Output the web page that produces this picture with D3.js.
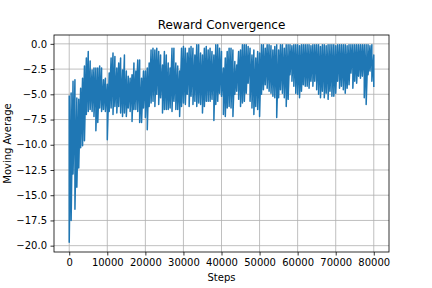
<!DOCTYPE html>
<html>
<head>
<meta charset="utf-8">
<script src="https://cdn.jsdelivr.net/npm/d3@7"></script>
<style>
  body { margin: 0; background: #fff; }
  text { font-family: "DejaVu Sans", sans-serif; }
</style>
</head>
<body>
<div id="chart"></div>
<script>
// Datos: envolvente (max / min) de la media movil cada 500 pasos
var sampleStep = 500;

var upper = [
  -5.2, -4.87, -3.7, -3.55, -5.36, -5.5, -4.4, -3.4, -2.2, -1.4,
  -0.75, -1.7, -2.6, -2.4, -2.4, -2.4, -2.2, -2.4, -3.55, -3.4,
  -4.0, -2.9, -1.4, -0.9, -1.25, -2.4, -1.9, -1.4, -2.6, -1.1,
  -2.7, -3.2, -3.4, -3.05, -1.9, -2.7, -1.6, -1.6, -3.4, -2.7,
  -2.7, -2.4, -1.9, -0.6, -0.43, -0.6, -0.43, -0.75, -1.1, -2.1,
  -0.75, -1.1, -1.9, -2.4, -0.43, -0.43, -1.9, -2.2, -2.7, -0.43,
  -0.26, -0.43, -0.9, -0.43, -0.26, -0.43, -1.1, -0.1, -0.1, -0.9,
  -1.1, -0.43, -0.26, -0.6, -0.43, -0.75, -1.1, -0.1, -0.1, -0.43,
  -0.75, -2.4, -1.4, -0.75, -0.43, -0.43, -0.6, -1.75, -2.1, -0.75,
  -0.6, -0.1, -0.1, -0.1, -0.26, -0.43, -1.1, -0.6, -1.4, -0.75,
  -0.9, -0.1, -0.1, -0.43, -0.1, -0.1, -0.2, -0.6, -0.26, -0.1,
  -0.6, -0.1, -0.1, -0.43, -0.1, -0.1, -0.1, -0.2, -0.1, -0.1,
  -0.1, -0.2, -0.1, -0.1, -0.1, -0.1, -0.1, -0.2, -0.1, -0.1,
  -0.1, -0.1, -0.26, -0.1, -0.1, -0.2, -0.1, -0.1, -0.1, -0.1,
  -0.2, -0.1, -0.1, -0.1, -0.1, -0.1, -0.2, -0.1, -0.1, -0.1,
  -0.1, -0.1, -0.1, -0.1, -0.1, -0.1, -0.1, -0.1, -0.2, -0.1,
  -1.1
];

var lower = [
  -19.65, -17.5, -12.9, -16.4, -14.2, -12.3, -10.3, -10.1, -9.6, -7.0,
  -6.7, -6.5, -6.7, -7.2, -8.6, -7.8, -6.35, -6.7, -6.5, -6.7,
  -9.5, -6.7, -6.35, -7.0, -6.2, -6.85, -6.2, -6.85, -7.2, -6.85,
  -7.2, -6.35, -6.7, -7.7, -6.5, -6.5, -6.7, -7.8, -7.8, -6.35,
  -7.3, -8.5, -6.2, -5.85, -5.7, -6.2, -5.0, -6.0, -5.35, -6.85,
  -6.5, -6.5, -6.5, -6.35, -6.7, -5.7, -6.5, -6.5, -7.2, -6.2,
  -5.85, -6.0, -5.0, -6.2, -5.2, -6.0, -5.7, -6.2, -5.85, -6.0,
  -6.85, -6.2, -5.7, -5.7, -5.7, -5.5, -7.6, -6.0, -5.7, -4.9,
  -5.2, -7.0, -7.2, -6.35, -6.2, -6.35, -7.2, -5.0, -4.7, -5.5,
  -6.2, -5.85, -5.7, -4.9, -3.9, -5.7, -6.35, -7.0, -6.2, -6.5,
  -7.2, -5.0, -4.55, -4.05, -4.4, -4.7, -4.9, -5.2, -5.35, -7.3,
  -5.35, -4.55, -4.9, -5.35, -6.2, -5.5, -3.05, -3.7, -4.2, -4.9,
  -5.0, -5.35, -4.7, -4.05, -4.2, -4.2, -4.4, -3.7, -4.2, -3.7,
  -4.55, -5.0, -5.35, -4.7, -5.35, -4.9, -5.5, -4.7, -5.2, -5.2,
  -4.9, -3.7, -4.4, -4.2, -4.55, -4.9, -4.4, -4.05, -2.9, -4.4,
  -3.7, -3.9, -3.2, -3.4, -3.2, -5.35, -6.0, -3.05, -2.7, -3.7,
  -4.2
];

var xTicks = [0, 10000, 20000, 30000, 40000, 50000, 60000, 70000, 80000];
var yTicks = [0, -2.5, -5, -7.5, -10, -12.5, -15, -17.5, -20];

var titulo = "Reward Convergence";
var etiquetaX = "Steps";
var etiquetaY = "Moving Average";

// Configuracion del grafico
var margin = { top: 35, right: 43, bottom: 36, left: 54 },
    width = 432 - margin.left - margin.right,
    height = 288 - margin.top - margin.bottom;

// La linea sube y baja entre el maximo y el minimo de cada tramo
var serie = [];
upper.forEach(function (v, i) {
    serie.push({ step: i * sampleStep, value: v });
    serie.push({ step: i * sampleStep, value: lower[i] });
});

var svg = d3.select("#chart").append("svg")
    .attr("width", 432)
    .attr("height", 288)
    .append("g")
    .attr("transform", "translate(" + margin.left + "," + margin.top + ")");

// Escalas con el margen del 5% como matplotlib
var xMax = (upper.length - 1) * sampleStep;
var x = d3.scaleLinear()
    .domain([-0.05 * xMax, 1.05 * xMax])
    .range([0, width]);

var yMin = d3.min(lower), yMax = d3.max(upper);
var yPad = (yMax - yMin) * 0.05;
var y = d3.scaleLinear()
    .domain([yMin - yPad, yMax + yPad])
    .range([height, 0]);

// Grid
svg.append("g").selectAll("line")
    .data(xTicks).enter().append("line")
    .attr("x1", function (d) { return x(d); })
    .attr("x2", function (d) { return x(d); })
    .attr("y1", 0).attr("y2", height)
    .attr("stroke", "#b0b0b0").attr("stroke-width", 0.8);

svg.append("g").selectAll("line")
    .data(yTicks).enter().append("line")
    .attr("y1", function (d) { return y(d); })
    .attr("y2", function (d) { return y(d); })
    .attr("x1", 0).attr("x2", width)
    .attr("stroke", "#b0b0b0").attr("stroke-width", 0.8);

// Linea de la media movil
svg.append("clipPath").attr("id", "clip")
    .append("rect").attr("width", width).attr("height", height);

var linea = d3.line()
    .x(function (d) { return x(d.step); })
    .y(function (d) { return y(d.value); });

svg.append("path")
    .datum(serie)
    .attr("clip-path", "url(#clip)")
    .attr("d", linea)
    .attr("fill", "none")
    .attr("stroke", "#1f77b4")
    .attr("stroke-width", 1.5)
    .attr("stroke-linejoin", "round")
    .attr("stroke-linecap", "square");

// Ejes
var ejeX = svg.append("g")
    .attr("transform", "translate(0," + height + ")")
    .call(d3.axisBottom(x).tickValues(xTicks).tickFormat(d3.format("d"))
        .tickSize(3.5).tickPadding(3.5));

var ejeY = svg.append("g")
    .call(d3.axisLeft(y).tickValues(yTicks).tickFormat(d3.format(".1f"))
        .tickSize(3.5).tickPadding(3.5));

[ejeX, ejeY].forEach(function (g) {
    g.select(".domain").remove();
    g.selectAll(".tick line").attr("stroke", "#000").attr("stroke-width", 0.8);
    g.selectAll(".tick text")
        .attr("fill", "#000")
        .style("font-size", "10px")
        .style("font-family", "'DejaVu Sans', sans-serif");
});

// Marco
svg.append("rect")
    .attr("width", width).attr("height", height)
    .attr("fill", "none").attr("stroke", "#000").attr("stroke-width", 0.8);

// Textos
svg.append("text")
    .attr("x", width / 2).attr("y", -6)
    .attr("text-anchor", "middle")
    .style("font-size", "12px")
    .text(titulo);

svg.append("text")
    .attr("x", width / 2).attr("y", height + 29)
    .attr("text-anchor", "middle")
    .style("font-size", "10px")
    .text(etiquetaX);

svg.append("text")
    .attr("transform", "translate(" + (10.5 - margin.left) + "," + (height / 2) + ") rotate(-90)")
    .attr("text-anchor", "middle")
    .style("font-size", "10px")
    .text(etiquetaY);
</script>
</body>
</html>
